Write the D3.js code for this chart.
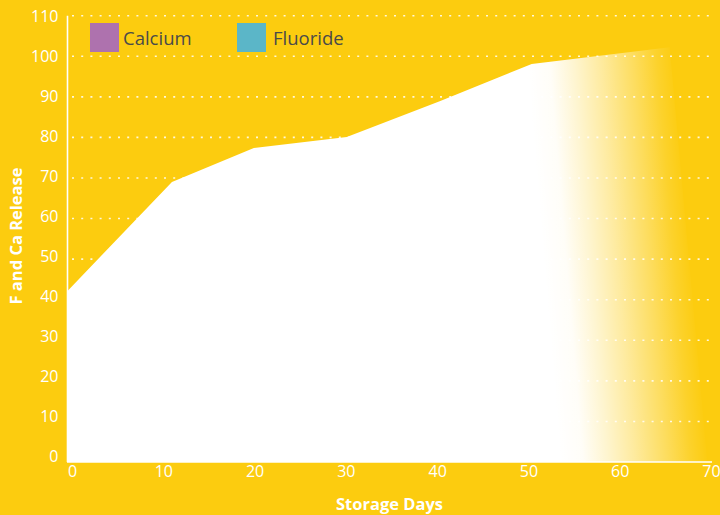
<!DOCTYPE html>
<html>
<head>
<meta charset="utf-8">
<script src="https://cdn.jsdelivr.net/npm/d3@7/dist/d3.min.js"></script>
<style>
  html, body { margin: 0; padding: 0; background: #FCCC0F; }
  svg { display: block; }
  text { font-family: "Open Sans", "Noto Sans", sans-serif; }
</style>
</head>
<body>
<svg id="chart" width="720" height="515"></svg>
<script>
// ---- data ----
const storageDays = [0, 11.3, 20.2, 30.3, 40.4, 50.4, 65.4, 69.5];
const release     = [42.3, 69, 77.4, 80.1, 88.9, 98.1, 102.2, 0];
const xTicks = [0, 10, 20, 30, 40, 50, 60, 70];
const yTicks = [0, 10, 20, 30, 40, 50, 60, 70, 80, 90, 100, 110];
const legendNames = ["Calcium", "Fluoride"];
const legendColors = ["#AE72AE", "#5BB6C8"];

const svg = d3.select("#chart");
const W = 720, H = 515;
const bg = "#FCCC0F";

svg.append("rect").attr("width", W).attr("height", H).attr("fill", bg);

const x = d3.scaleLinear().domain([0, 70]).range([68, 712]);
const y = d3.scaleLinear().domain([0, 110]).range([462, 15.7]);
// label placement scales
const xl = d3.scaleLinear().domain([0, 70]).range([72, 711]);
const yl = d3.scaleLinear().domain([0, 110]).range([456.7, 16.7]);

// gridlines
svg.append("g").selectAll("line").data(yTicks.filter(d => d > 0)).join("line")
  .attr("x1", 72).attr("x2", 712)
  .attr("y1", d => y(d)).attr("y2", d => y(d))
  .attr("stroke", "#FFFFFF").attr("stroke-opacity", 0.85)
  .attr("stroke-width", 1.6)
  .attr("stroke-dasharray", "2,7.2");

// gradient (iso-lines tilted to follow the soft right edge)
const defs = svg.append("defs");
const grad = defs.append("linearGradient").attr("id", "fade")
  .attr("gradientUnits", "userSpaceOnUse")
  .attr("x1", 522).attr("x2", 670).attr("y1", 0).attr("y2", 0)
  .attr("gradientTransform", "skewX(4.8)");
[[0, 1], [0.15, 0.97], [0.32, 0.8], [0.5, 0.6], [0.72, 0.33], [0.88, 0.12], [1, 0]].forEach(([o, a]) => {
  grad.append("stop").attr("offset", o).attr("stop-color", "#FFFFFF").attr("stop-opacity", a);
});

const pts = storageDays.map((d, i) => [d, release[i]]);
const area = d3.area().x(d => x(d[0])).y0(y(0)).y1(d => y(d[1]));
svg.append("path").datum(pts).attr("d", area).attr("fill", "url(#fade)");

// axes lines
svg.append("line").attr("x1", 67.5).attr("x2", 67.5).attr("y1", y(110)).attr("y2", y(0))
  .attr("stroke", "#FFFFFF").attr("stroke-width", 1.6);
svg.append("line").attr("x1", 67).attr("x2", 712).attr("y1", y(0)).attr("y2", y(0))
  .attr("stroke", "#FFFFFF").attr("stroke-width", 1.6);

// y tick labels
const yAxis = d3.axisLeft(yl).tickValues(yTicks).tickSize(0).tickPadding(0);
const gy = svg.append("g").attr("transform", "translate(58.5,0)").call(yAxis);
gy.select(".domain").remove();
gy.selectAll("text").attr("fill", "#FFFFFF").style("font-size", "16px")
  .style("font-family", '"Open Sans", sans-serif');

// x tick labels
const xAxis = d3.axisBottom(xl).tickValues(xTicks).tickSize(0).tickPadding(0);
const gx = svg.append("g").attr("transform", "translate(0,465.5)").call(xAxis);
gx.select(".domain").remove();
gx.selectAll("text").attr("fill", "#FFFFFF").style("font-size", "16px")
  .style("font-family", '"Open Sans", sans-serif');

// axis titles
svg.append("text").attr("x", 389.5).attr("y", 509.5).attr("text-anchor", "middle")
  .attr("fill", "#FFFFFF").style("font-size", "16.5px").style("font-weight", "bold")
  .text("Storage Days");
svg.append("text").attr("transform", "translate(21.5,236) rotate(-90)")
  .attr("text-anchor", "middle")
  .attr("fill", "#FFFFFF").style("font-size", "16.5px").style("font-weight", "bold")
  .text("F and Ca Release");

// legend
const legX = [90, 237];
const lg = svg.append("g").selectAll("g").data(legendNames).join("g")
  .attr("transform", (d, i) => `translate(${legX[i]},23)`);
lg.append("rect").attr("width", 29).attr("height", 29).attr("fill", (d, i) => legendColors[i]);
lg.append("text").attr("x", (d, i) => i === 0 ? 33 : 36).attr("y", 22)
  .attr("fill", "#4A4A4A").style("font-size", "18.5px").text(d => d);
</script>
</body>
</html>
